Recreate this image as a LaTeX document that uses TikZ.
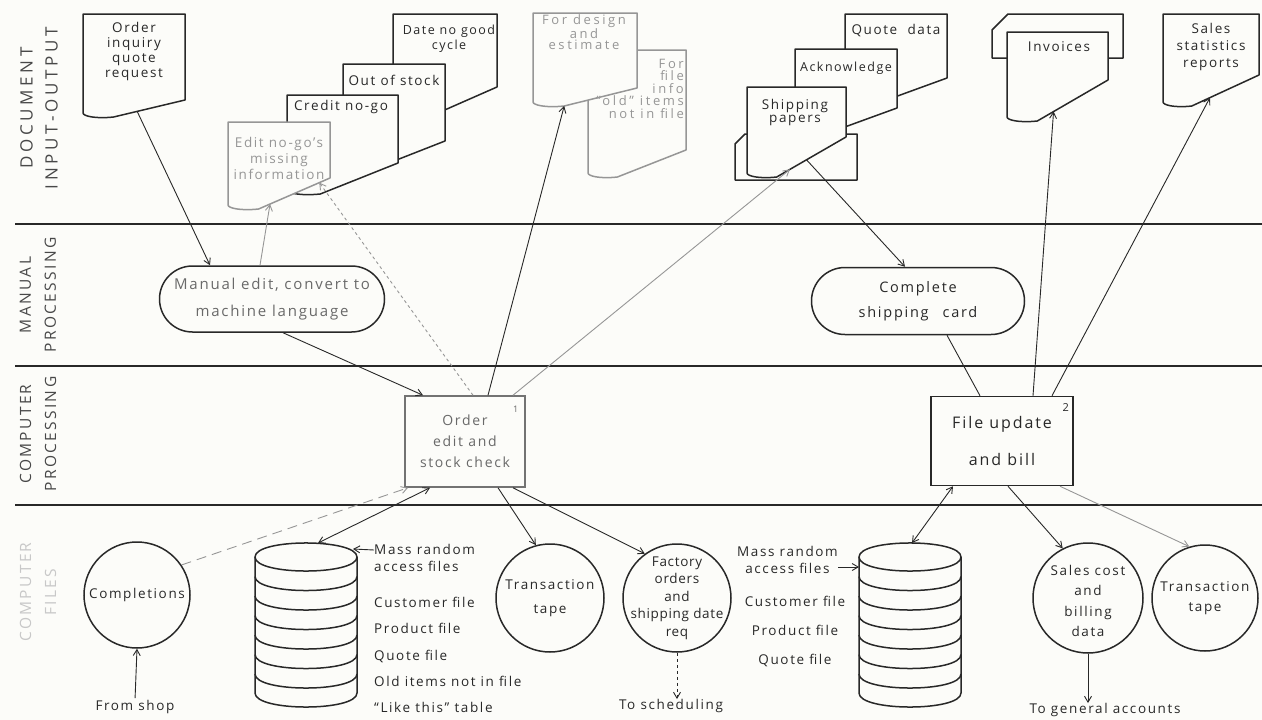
\documentclass[tikz,border=0pt]{standalone}
\usepackage{fontspec}
\setmainfont{Open Sans}[LetterSpace=12]
\usetikzlibrary{arrows.meta, calc, shapes.misc}

\definecolor{paper}{RGB}{252,252,249}
\definecolor{ink}{RGB}{40,40,40}
\definecolor{faded}{RGB}{150,150,150}
\definecolor{ghost}{RGB}{200,200,200}

% lettering size with a chosen line spacing
\newcommand{\lsz}[1]{\fontsize{13.5}{#1}\selectfont}
\newcommand{\ssz}[1]{\fontsize{13}{#1}\selectfont\addfontfeatures{LetterSpace=20}}

% document symbol: [style] name, left, top, right, left bottom, right bottom
\newcommand{\docpage}[7][]{%
  \coordinate (#2-foot) at ({#3+0.3*(#5-#3)},#6+4);
  \coordinate (#2-edge) at (#5,#7);
  \filldraw[docline,#1] (#3,#4) -- (#5,#4) -- (#2-edge) -- (#2-foot)
    .. controls ({#3+0.12*(#5-#3)},#6+6) and (#3,#6+3) .. (#3,#6) -- cycle;
}

% punched card: left, top, right, bottom, corner cut
\newcommand{\cardpage}[5]{%
  \filldraw[docline] ({#1+#5},#2) -- (#3,#2) -- (#3,#4) -- (#1,#4) -- (#1,#2+#5) -- cycle;
}

% disk file: name, centre x, top y
\newcommand{\diskfile}[3]{%
  \coordinate (#1-top) at (#2,#3);
  \coordinate (#1-east) at (#2+47,#3+6);
  \coordinate (#1-west) at (#2-51,#3+24);
  \filldraw[docline] (#2-51,#3+14) -- (#2-51,#3+150)
    .. controls (#2-51,#3+168.7) and (#2+51,#3+168.7) .. (#2+51,#3+150)
    -- (#2+51,#3+14)
    .. controls (#2+51,#3-4.7) and (#2-51,#3-4.7) .. cycle;
  \foreach \k in {0,...,6}
    \draw[docline, fill=none] (#2-51,{#3+14+19.5*\k})
      .. controls (#2-51,{#3+32.7+19.5*\k}) and (#2+51,{#3+32.7+19.5*\k}) .. (#2+51,{#3+14+19.5*\k});
}

\tikzset{
  docline/.style={draw=ink, line width=1.5pt, line join=round, fill=paper},
  faint/.style={draw=faded, text=faded},
  txt/.style={align=center, inner sep=0pt, text=ink, font=\lsz{15}},
  bandlabel/.style={align=center, inner sep=0pt, rotate=90, text=ink!85,
    font=\fontsize{15.5}{25}\selectfont\addfontfeatures{LetterSpace=15}},
  rule/.style={draw=ink, line width=1.5pt},
  terminal/.style={rounded rectangle, draw=ink, line width=1.5pt, fill=paper,
    align=center, inner sep=0pt, text=ink},
  procbox/.style={rectangle, draw=ink, line width=1.5pt, fill=paper,
    align=center, inner sep=0pt, text=ink},
  filecirc/.style={circle, draw=ink, line width=1.5pt, fill=paper, inner sep=0pt},
  arr/.style={draw=ink, line width=0.9pt, -{Straight Barb[length=6pt,width=7pt]}},
  dbl/.style={arr, {Straight Barb[length=6pt,width=7pt]}-{Straight Barb[length=6pt,width=7pt]}},
  link/.style={draw=ink, line width=0.9pt},
}

\begin{document}
\begin{tikzpicture}[x=1pt, y=-1pt]
\fill[paper] (0,0) rectangle (1262,720);
\useasboundingbox (0,0) rectangle (1262,720);

% bands
\draw[rule] (15,224) -- (1262,224);
\draw[rule] (15,366) -- (1262,366);
\draw[rule] (15,505) -- (1262,505);
\node[bandlabel, font=\fontsize{17}{25}\selectfont\addfontfeatures{LetterSpace=22}]
  (docLbl) at (39,108) {DOCUMENT\\INPUT-OUTPUT};
\node[bandlabel] (manLbl) at (38,295) {MANUAL\\PROCESSING};
\node[bandlabel] (cpuLbl) at (38,434) {COMPUTER\\PROCESSING};
\node[bandlabel, text=ghost] (filesLbl) at (38,592) {COMPUTER\\FILES};

% documents
\docpage{order}{83}{14}{185}{113}{100}
\node[txt] (orderT) at (134,51) {Order\\inquiry\\quote\\request};

\docpage{date}{393}{14}{497}{115}{87}
\node[txt, font=\fontsize{12.5}{15}\selectfont] (dateT) at (449,39) {Date no good\\cycle};
\docpage{stock}{343}{64}{445}{165}{141}
\node[txt] (stockT) at (394,80) {Out of stock};
\docpage{credit}{287}{95}{398}{190}{163}
\node[txt] (creditT) at (341,107) {Credit no-go};
\docpage[faint]{edit}{228}{122}{330}{205}{178}
\node[txt, text=faded, font=\lsz{16}] (editT) at (279,158) {Edit no-go's\\missing\\information};

\docpage[faint]{file}{588}{50}{686}{173}{150}
\docpage[faint]{design}{533}{13}{637}{102}{88}
\node[txt, text=faded, font=\ssz{11.5}] (designT) at (584,32) {For design\\and\\estimate};
\node[txt, text=faded, align=right, anchor=north east, font=\ssz{12.5}] (fileT) at (684,59)
  {For\\file\\info\\{}``old'' items\\not in file};

\docpage{quote}{845}{14}{947}{100}{78}
\node[txt] (quoteT) at (896,31) {Quote~~data};
\docpage{ack}{795}{49}{897}{130}{108}
\node[txt, font=\fontsize{12.5}{15}\selectfont] (ackT) at (846,68) {Acknowledge};
\cardpage{735}{134}{857}{180}{10}
\docpage{ship}{747}{87}{846}{173}{137}
\node[txt, font=\lsz{13}] (shipT) at (795,112) {Shipping\\papers};

\cardpage{992}{14}{1123}{58}{16}
\docpage{invoice}{1007}{32}{1108}{117}{80}
\node[txt] (invoiceT) at (1059,47) {Invoices};
\docpage{stats}{1163}{14}{1259}{102}{75}
\node[txt, font=\lsz{17}] (statsT) at (1211,47) {Sales\\statistics\\reports};

% manual processing
\node[terminal, minimum width=225pt, minimum height=66pt, text=ink!70,
  font=\fontsize{15}{27}\selectfont]
  (manual) at (272,299) {Manual edit, convert to\\machine language};
\node[terminal, minimum width=213pt, minimum height=67pt,
  font=\fontsize{14.5}{25}\selectfont]
  (complete) at (918,301) {Complete\\shipping\hspace{14pt}card};

% computer processing
\node[procbox, draw=ink!65, text=ink!70, minimum width=120pt, minimum height=91pt,
  font=\fontsize{14}{21}\selectfont]
  (orderedit) at (465,441.5) {Order\\edit and\\stock check};
\node[txt, text=ink!70, font=\fontsize{9}{9}\selectfont] (n1) at ([xshift=-10pt,yshift=-14pt]orderedit.north east) {1};
\node[procbox, minimum width=142pt, minimum height=89pt,
  font=\fontsize{16}{37}\selectfont]
  (update) at (1002,441) {File update\\and bill};
\node[txt, font=\fontsize{11}{11}\selectfont] (n2) at ([xshift=-8pt,yshift=-12pt]update.north east) {2};

% computer files
\node[filecirc, minimum size=106pt] (compl) at (137,595) {};
\node[txt] (complT) at (compl) {Completions};
\diskfile{disk1}{306}{543}
\node[txt, anchor=west, align=left, font=\lsz{17}] (mass1) at (374,558) {Mass random\\access files};
\node[txt, anchor=west, align=left, font=\lsz{26.3}] (list1) at (374,655)
  {Customer file\\Product file\\Quote file\\Old items not in file\\``Like this'' table};
\node[filecirc, minimum size=108pt] (tape1) at (550,598) {};
\node[txt, font=\lsz{24}] (tape1T) at (tape1) {Transaction\\tape};
\node[filecirc, minimum size=108pt] (factory) at (677,598) {};
\node[txt, font=\lsz{17.5}\addfontfeatures{LetterSpace=5}] (factoryT) at (factory)
  {Factory\\orders\\and\\shipping date\\req};

\diskfile{disk2}{910}{543}
\node[txt, anchor=east, font=\lsz{17}] (mass2) at (838,560) {Mass random\\access files};
\node[txt, font=\lsz{29}] (list2) at (795,631) {Customer file\\Product file\\Quote file};
\node[filecirc, minimum size=110pt] (sales) at (1088,598) {};
\node[txt, font=\lsz{20.5}] (salesT) at (1088,601) {Sales cost\\and\\billing\\data};
\node[filecirc, minimum size=106pt] (tape2) at (1205,598) {};
\node[txt, font=\lsz{20}] (tape2T) at (tape2) {Transaction\\tape};

\node[txt] (shop) at (135,707) {From shop};
\node[txt] (sched) at (671,706) {To scheduling};
\node[txt] (accounts) at (1105,710) {To general accounts};

% flow lines
\draw[arr] ($(order-foot)!0.33!(order-edge)$) -- ([xshift=-62pt]manual.north);
\draw[arr, faint] ([xshift=-12pt]manual.north) -- ($(edit-foot)!0.16!(edit-edge)$);
\draw[arr, faint, dashed] ([xshift=8pt]orderedit.north) -- ($(edit-foot)!0.85!(edit-edge)$);
\draw[arr] ([xshift=23pt]orderedit.north) -- (design-foot);
\draw[arr, faint] ([xshift=48pt]orderedit.north) -- ($(ship-foot)!0.19!(ship-edge)$);
\draw[arr] ([xshift=11pt]manual.south) -- ([xshift=-42pt]orderedit.north);
\draw[arr] ($(ship-foot)!0.43!(ship-edge)$) -- ([xshift=-13pt]complete.north);
\draw[link] ([xshift=29pt]complete.south) -- ([xshift=-22pt]update.north);
\draw[arr] ([xshift=31pt]update.north) -- ($(invoice-foot)!0.23!(invoice-edge)$);
\draw[arr] ([xshift=50pt]update.north) -- ($(stats-foot)!0.27!(stats-edge)$);

\draw[arr, faint, dash pattern=on 10pt off 6pt] (compl.34) -- ([xshift=-57pt]orderedit.south);
\draw[dbl] ([xshift=-35pt]orderedit.south) -- ([xshift=12pt]disk1-top);
\draw[arr] ([xshift=33pt]orderedit.south) -- (tape1.105);
\draw[arr] ([xshift=48pt]orderedit.south) -- (factory.126);
\draw[dbl] ([xshift=-49pt]update.south) -- ([xshift=2pt]disk2-top);
\draw[arr] ([xshift=6pt]update.south) -- (sales.117);
\draw[arr, faint] ([xshift=58pt]update.south) -- (tape2.107);

\draw[arr] ([yshift=8pt]mass1.west) -- (disk1-east);
\draw[arr] ([yshift=-7pt]mass2.east) -- (disk2-west);
\draw[arr, shorten <=2pt] (shop.north) -- (compl.south);
\draw[arr, dashed] (factory.south) -- (factory.south |- sched.north);
\draw[arr] (sales.south) -- (sales.south |- accounts.north);
\end{tikzpicture}
\end{document}
